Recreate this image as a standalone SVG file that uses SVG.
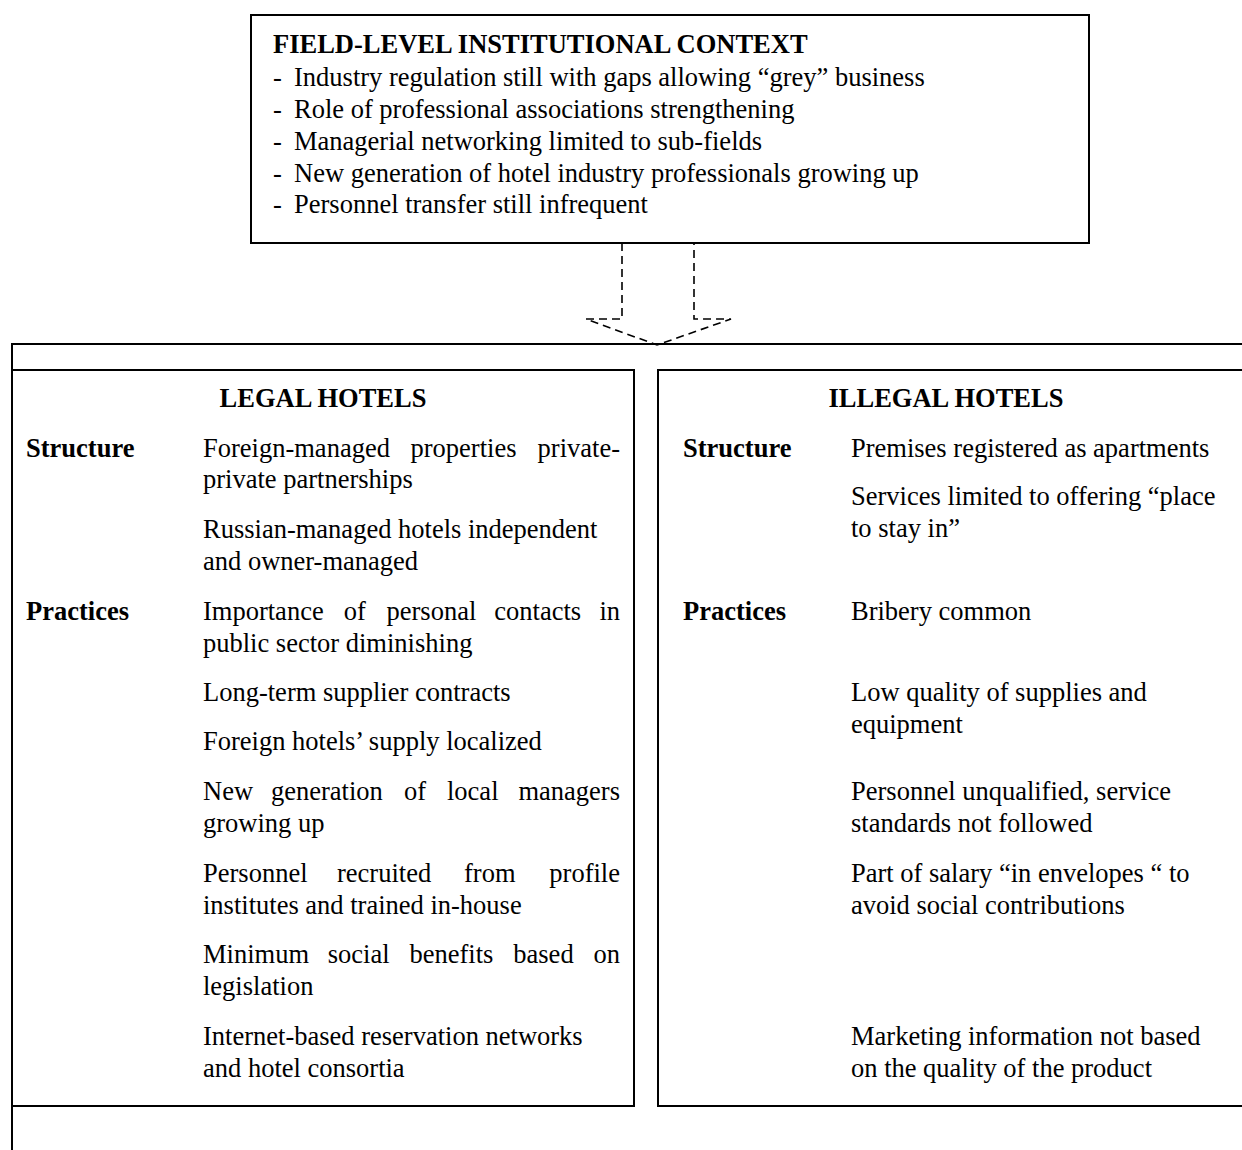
<svg xmlns="http://www.w3.org/2000/svg" width="1242" height="1150" viewBox="0 0 1242 1150">
<style>
.box{fill:none;stroke:#000;stroke-width:2}
.t{font-family:"Liberation Serif","Times New Roman",serif;font-size:26.5px;fill:#000}
.b{font-weight:bold}
.e{text-anchor:end}
.arrow{fill:none;stroke:#000;stroke-width:1.6;stroke-dasharray:8,5}
</style>
<rect width="1242" height="1150" fill="#fff"/>
<g id="context">
<rect class="box" x="251" y="15" width="838" height="228"/>
<text class="t b" x="273" y="53">FIELD-LEVEL INSTITUTIONAL CONTEXT</text>
<text class="t" x="273" y="86">-</text><text class="t" x="294" y="86">Industry regulation still with gaps allowing “grey” business</text>
<text class="t" x="273" y="118">-</text><text class="t" x="294" y="118">Role of professional associations strengthening</text>
<text class="t" x="273" y="150">-</text><text class="t" x="294" y="150">Managerial networking limited to sub-fields</text>
<text class="t" x="273" y="182">-</text><text class="t" x="294" y="182">New generation of hotel industry professionals growing up</text>
<text class="t" x="273" y="213">-</text><text class="t" x="294" y="213">Personnel transfer still infrequent</text>
</g>
<g id="connectors">
<path class="arrow" d="M622,243 V319 H586 L657,345 L731,319 H694 V243"/>
</g>
<g id="outer">
<rect class="box" x="12" y="344" width="1300" height="900"/>
</g>
<g id="legal">
<rect class="box" x="12" y="370" width="622" height="736"/>
<text class="t b" x="323" y="407" text-anchor="middle">LEGAL HOTELS</text>
<text class="t b" x="26" y="457">Structure</text>
<text class="t" x="203" y="457">Foreign-managed</text><text class="t" x="410.5" y="457">properties</text><text class="t e" x="620" y="457">private-</text>
<text class="t" x="203" y="488">private partnerships</text>
<text class="t" x="203" y="538">Russian-managed hotels independent</text>
<text class="t" x="203" y="570">and owner-managed</text>
<text class="t b" x="26" y="620">Practices</text>
<text class="t" x="203" y="620">Importance</text><text class="t" x="343.8" y="620">of</text><text class="t" x="386.5" y="620">personal</text><text class="t" x="494.3" y="620">contacts</text><text class="t e" x="620" y="620">in</text>
<text class="t" x="203" y="652">public sector diminishing</text>
<text class="t" x="203" y="701">Long-term supplier contracts</text>
<text class="t" x="203" y="750">Foreign hotels’ supply localized</text>
<text class="t" x="203" y="800">New</text><text class="t" x="271" y="800">generation</text><text class="t" x="404" y="800">of</text><text class="t" x="447" y="800">local</text><text class="t e" x="620" y="800">managers</text>
<text class="t" x="203" y="832">growing up</text>
<text class="t" x="203" y="882">Personnel</text><text class="t" x="337" y="882">recruited</text><text class="t" x="464" y="882">from</text><text class="t e" x="620" y="882">profile</text>
<text class="t" x="203" y="914">institutes and trained in-house</text>
<text class="t" x="203" y="963">Minimum</text><text class="t" x="327.8" y="963">social</text><text class="t" x="409.5" y="963">benefits</text><text class="t" x="513.3" y="963">based</text><text class="t e" x="620" y="963">on</text>
<text class="t" x="203" y="995">legislation</text>
<text class="t" x="203" y="1045">Internet-based reservation networks</text>
<text class="t" x="203" y="1077">and hotel consortia</text>
</g>
<g id="illegal">
<rect class="box" x="658" y="370" width="700" height="736"/>
<text class="t b" x="946" y="407" text-anchor="middle">ILLEGAL HOTELS</text>
<text class="t b" x="683" y="457">Structure</text>
<text class="t" x="851" y="457">Premises registered as apartments</text>
<text class="t" x="851" y="505">Services limited to offering “place</text>
<text class="t" x="851" y="537">to stay in”</text>
<text class="t b" x="683" y="620">Practices</text>
<text class="t" x="851" y="620">Bribery common</text>
<text class="t" x="851" y="701">Low quality of supplies and</text>
<text class="t" x="851" y="733">equipment</text>
<text class="t" x="851" y="800">Personnel unqualified, service</text>
<text class="t" x="851" y="832">standards not followed</text>
<text class="t" x="851" y="882">Part of salary “in envelopes “ to</text>
<text class="t" x="851" y="914">avoid social contributions</text>
<text class="t" x="851" y="1045">Marketing information not based</text>
<text class="t" x="851" y="1077">on the quality of the product</text>
</g>
</svg>
